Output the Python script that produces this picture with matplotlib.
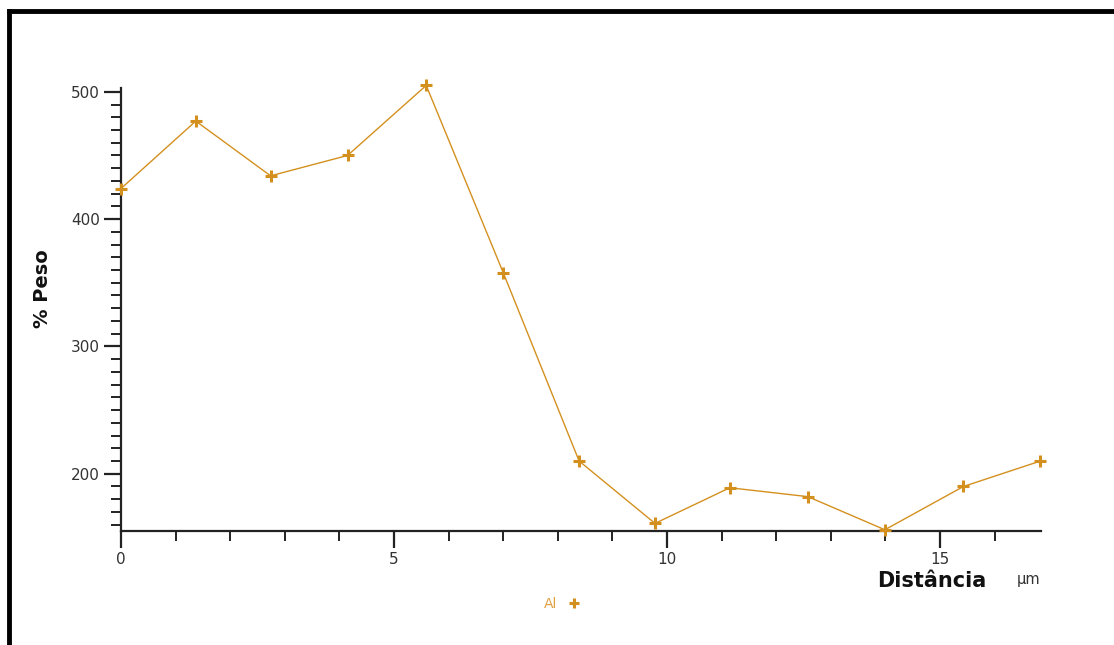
import matplotlib.pyplot as plt
from matplotlib.ticker import MultipleLocator
from matplotlib.lines import Line2D

# perfil de Al ao longo da distância
distancia = [0.0, 1.37, 2.74, 4.15, 5.59, 7.0, 8.39, 9.78, 11.15, 12.58, 13.99, 15.43, 16.84]
peso = [424, 477, 434, 450, 505, 358, 210, 161, 189, 182, 156, 190, 210]
x_ticks = [0, 5, 10, 15]
y_ticks = [200, 300, 400, 500]

cor = '#D4901F'

fig = plt.figure(figsize=(11.14, 6.45), dpi=100)
ax = fig.add_axes([0.1086, 0.1767, 0.8259, 0.6869])

ax.plot(distancia, peso, color=cor, linewidth=1.0, marker='+', markersize=8,
        markeredgewidth=2.2, clip_on=False, zorder=3)

ax.set_xlim(0, 16.85)
ax.set_ylim(155, 503)
ax.set_xticks(x_ticks)
ax.set_yticks(y_ticks)
ax.xaxis.set_minor_locator(MultipleLocator(1))
ax.yaxis.set_minor_locator(MultipleLocator(10))

for s in ['top', 'right']:
    ax.spines[s].set_visible(False)
for s in ['left', 'bottom']:
    ax.spines[s].set_linewidth(1.6)
    ax.spines[s].set_color('#222222')

ax.tick_params(which='major', direction='out', length=12, width=1.6, color='#222222',
               labelsize=11, labelcolor='#333333', pad=3)
ax.tick_params(which='minor', direction='out', length=7, width=1.4, color='#222222')

fig.text(0.0385, 0.552, '% Peso', rotation=90, ha='center', va='center',
         fontsize=14, fontweight='bold', color='#111111')
fig.text(0.836, 0.099, 'Distância', ha='center', va='center',
         fontsize=15, fontweight='bold', color='#111111')
fig.text(0.923, 0.101, 'µm', ha='center', va='center', fontsize=10.5, color='#333333')

# legenda
fig.text(0.4946, 0.064, 'Al', ha='center', va='center', fontsize=10, color='#E0A040')
fig.lines.append(Line2D([0.515], [0.065], transform=fig.transFigure, marker='+',
                        color=cor, markersize=7, markeredgewidth=2.2))

# moldura
fig.lines.append(Line2D([0.0081, 0.0081], [0.0, 0.983], transform=fig.transFigure,
                        color='black', linewidth=3.5))
fig.lines.append(Line2D([0.0081, 1.0], [0.983, 0.983], transform=fig.transFigure,
                        color='black', linewidth=3.5))

fig.savefig('out.png', dpi=100)
